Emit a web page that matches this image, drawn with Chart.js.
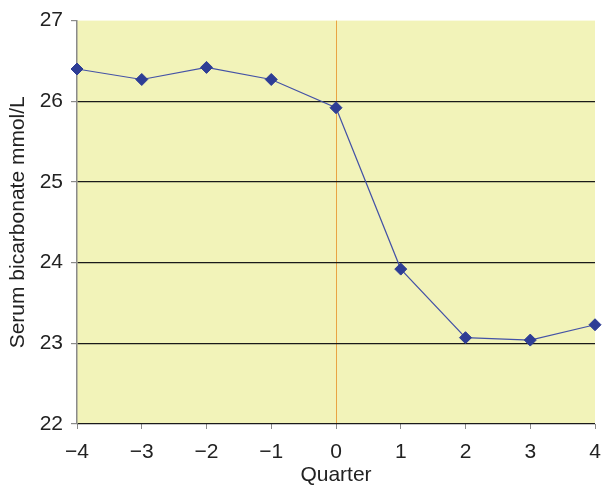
<!DOCTYPE html>
<html>
<head>
<meta charset="utf-8">
<script src="https://cdn.jsdelivr.net/npm/chart.js@4/dist/chart.umd.min.js"></script>
<style>
  html, body { margin: 0; padding: 0; background: #ffffff; }
  #wrap { width: 602px; height: 485px; }
</style>
</head>
<body>
<div id="wrap"><canvas id="c" width="602" height="485"></canvas></div>
<script>
// Quarters relative to the start of treatment, and mean serum bicarbonate
const quarters = [-4, -3, -2, -1, 0, 1, 2, 3, 4];
const bicarbonate = [26.40, 26.27, 26.42, 26.27, 25.92, 23.92, 23.07, 23.04, 23.23];
const yTicks = [22, 23, 24, 25, 26, 27];

const fmtMinus = v => (v < 0 ? '\u2212' + Math.abs(v) : String(v));

// Pale yellow plot background
const plotFill = {
  id: 'plotFill',
  beforeDraw(chart) {
    const { ctx, chartArea: a } = chart;
    ctx.save();
    ctx.fillStyle = '#f2f3b9';
    ctx.fillRect(a.left, a.top, a.right - a.left, a.bottom - a.top);
    ctx.restore();
  }
};

const font = { family: '"Liberation Sans", Arial, sans-serif', size: 21 };

new Chart(document.getElementById('c'), {
  type: 'line',
  data: {
    datasets: [{
      data: quarters.map((q, i) => ({ x: q, y: bicarbonate[i] })),
      borderColor: '#4452a6',
      borderWidth: 1.2,
      pointStyle: 'rectRot',
      pointRadius: 6,
      pointBackgroundColor: '#2e3d95',
      pointBorderColor: '#2e3d95',
      pointBorderWidth: 1,
      tension: 0,
      clip: false
    }]
  },
  options: {
    responsive: false,
    animation: false,
    layout: { padding: { top: 19, right: 4, left: 0, bottom: 0 } },
    plugins: { legend: { display: false }, tooltip: { enabled: false } },
    scales: {
      x: {
        type: 'linear',
        min: -4, max: 4,
        afterBuildTicks: s => { s.ticks = quarters.map(v => ({ value: v })); },
        afterFit: s => { s.height = 61; s.paddingRight = 0; s.paddingLeft = 0; },
        border: { display: false },
        grid: {
          drawOnChartArea: true,
          color: c => (c.tick && c.tick.value === 0 ? '#e9a443' : 'rgba(0,0,0,0)'),
          lineWidth: 1,
          tickLength: 5,
          tickColor: '#8a8a8a'
        },
        ticks: {
          font, color: '#222222', padding: 11,
          callback: v => fmtMinus(v)
        },
        title: {
          display: true, text: 'Quarter', font, color: '#222222',
          padding: { top: 4, bottom: -3 }
        }
      },
      y: {
        min: 22, max: 27,
        afterBuildTicks: s => { s.ticks = yTicks.map(v => ({ value: v })); },
        afterFit: s => { s.width = 77; },
        border: { display: true, color: '#8a8a8a', width: 1.5 },
        grid: {
          color: c => (c.tick && c.tick.value === 27 ? 'rgba(0,0,0,0)' : '#1a1a1a'),
          lineWidth: 1.2,
          tickLength: 6,
          tickColor: '#8a8a8a'
        },
        ticks: { font, color: '#222222', padding: 8 },
        title: {
          display: true, text: 'Serum bicarbonate mmol/L', font, color: '#222222',
          padding: { top: 6, bottom: 0 }
        }
      }
    }
  },
  plugins: [plotFill]
});
</script>
</body>
</html>
